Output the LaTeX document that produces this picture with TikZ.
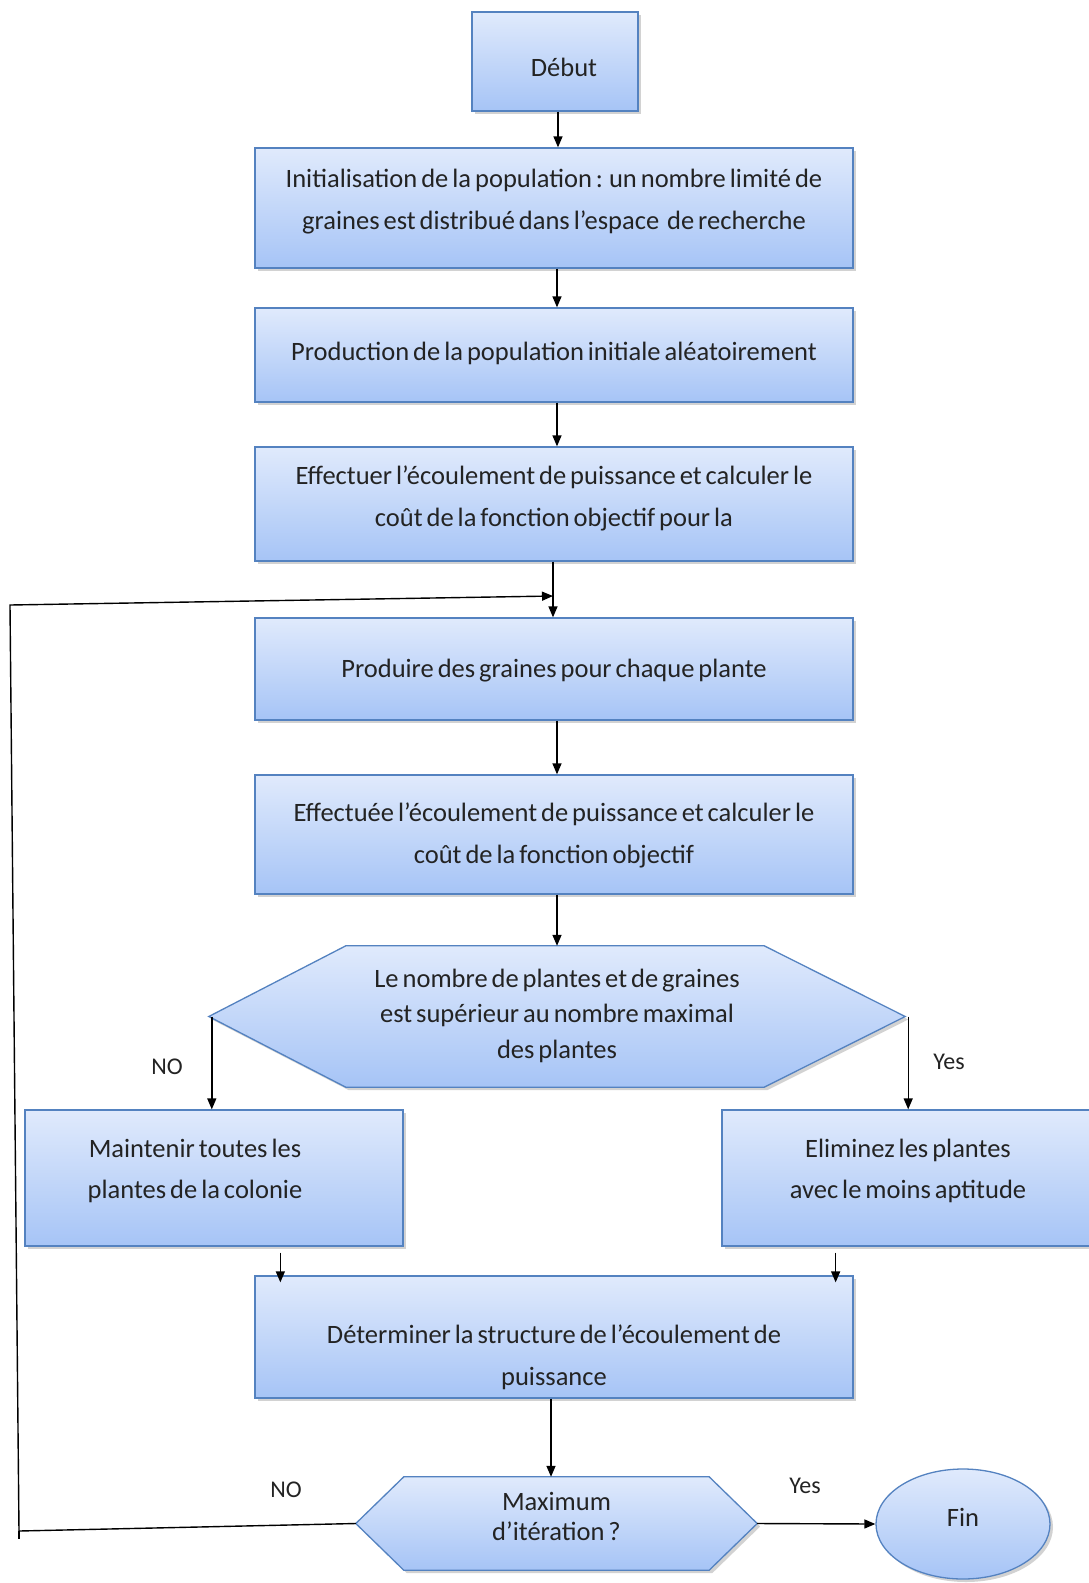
\documentclass[tikz,border=0pt]{standalone}
\usepackage{fontspec}
\setmainfont{Carlito}
\usetikzlibrary{shadows,arrows.meta,backgrounds,shapes.geometric}
\pgfdeclarelayer{paper}
\pgfsetlayers{paper,background,main}
\definecolor{bordc}{RGB}{84,130,192}
\definecolor{topc}{RGB}{224,234,252}
\definecolor{botc}{RGB}{166,196,246}
\definecolor{txtc}{RGB}{35,35,35}
\newcommand\mytxt[2]{\raisebox{#1}[\height][\depth]{\begin{tabular}{@{}c@{}}#2\end{tabular}}}
\newcommand\txtfont[1]{\fontsize{26.5}{#1}\selectfont\spaceskip=0.15em plus 0.05em minus 0.03em\relax}
\tikzset{
  base/.style={line width=1.3pt, draw=bordc, top color=topc, bottom color=botc,
    drop shadow={opacity=0.35, shadow xshift=3pt, shadow yshift=-3pt}},
  box/.style={base, rectangle, align=center, text=txtc, inner sep=0pt,
    font=\txtfont{42}},
  hexlbl/.style={rectangle, align=center, text=txtc, inner sep=0pt},
  arr/.style={line width=1.4pt, -{Triangle[length=11pt,width=9pt]}},
  lbl/.style={text=txtc, font=\fontsize{24}{28}\selectfont}
}
\begin{document}
\begin{tikzpicture}[x=1pt,y=-1pt]
\begin{pgfonlayer}{paper}
\fill[white] (0,0) rectangle (1088,1583);
\end{pgfonlayer}
\useasboundingbox (0,0) rectangle (1088,1583);
% boxes
\node[box, minimum width=166, minimum height=99] (deb) at (555,61.5) {\mytxt{-7pt}{\hspace*{18pt}Début}};
\node[box, minimum width=598, minimum height=120] (init) at (554,208)
  {\mytxt{8pt}{Initialisation de la population : un nombre limité de\\graines est distribué dans l’espace \ de recherche}};
\node[box, minimum width=598, minimum height=94] (prod) at (554,355)
  {\mytxt{3pt}{Production de la population initiale aléatoirement}};
\node[box, minimum width=598, minimum height=114] (eff) at (554,504)
  {\mytxt{7pt}{Effectuer l’écoulement de puissance et calculer le\\coût de la fonction objectif pour la}};
\node[box, minimum width=598, minimum height=102] (plant) at (554,669)
  {\mytxt{0pt}{Produire des graines pour chaque plante}};
\node[box, minimum width=598, minimum height=119] (eff2) at (554,834.5)
  {\mytxt{0pt}{Effectuée l’écoulement de puissance et calculer le\\coût de la fonction objectif}};
% decision 1
\node[hexlbl, minimum width=696, minimum height=141, font=\txtfont{35.5}] (d1) at (557,1016.5)
  {\mytxt{1pt}{Le nombre de plantes et de graines\\est supérieur au nombre maximal\\des plantes}};
\begin{pgfonlayer}{background}
\path[base] (d1.west) -- ([xshift=137]d1.north west) -- ([xshift=-141]d1.north east)
  -- (d1.east) -- ([xshift=-141]d1.south east) -- ([xshift=137]d1.south west) -- cycle;
\end{pgfonlayer}
\node[box, minimum width=378, minimum height=136, font=\txtfont{40.5}] (mnt) at (214,1178)
  {\mytxt{8pt}{\hspace*{-38pt}Maintenir toutes les\\\hspace*{-38pt}plantes de la colonie}};
\node[box, minimum width=372, minimum height=136, font=\txtfont{40.5}] (elim) at (908,1178)
  {\mytxt{8pt}{Eliminez les plantes\\avec le moins aptitude}};
\node[box, minimum width=598, minimum height=122] (det) at (554,1337)
  {\mytxt{-19pt}{Déterminer la structure de l’écoulement de\\puissance}};
% decision 2
\node[hexlbl, minimum width=401, minimum height=93, font=\txtfont{30.5}] (mx) at (556.5,1523.5)
  {\mytxt{4pt}{Maximum\\d’itération ?}};
\begin{pgfonlayer}{background}
\path[base] (mx.west) -- ([xshift=48]mx.north west) -- ([xshift=-48]mx.north east)
  -- (mx.east) -- ([xshift=-48]mx.south east) -- ([xshift=48]mx.south west) -- cycle;
\end{pgfonlayer}
\node[base, ellipse, minimum width=174, minimum height=110, text=txtc, font=\txtfont{30}] (fin) at (963,1524) {\raisebox{14pt}{Fin}};
% connectors
\draw[arr] ([xshift=3]deb.south) -- ([xshift=3]deb.south |- init.north);
\draw[arr] ([xshift=3]init.south) -- ([xshift=3]init.south |- prod.north);
\draw[arr] ([xshift=3]prod.south) -- ([xshift=3]prod.south |- eff.north);
\coordinate (jn) at (553,596);
\draw[arr] (eff.south -| jn) -- (jn |- plant.north);
\draw[arr] ([xshift=3]plant.south) -- ([xshift=3]plant.south |- eff2.north);
\draw[arr] ([xshift=3]eff2.south) -- ([xshift=3]eff2.south |- d1.north);
\draw[arr] ([xshift=3]d1.west) -- ([xshift=3]d1.west |- mnt.north);
\draw[arr] ([xshift=3]d1.east) -- ([xshift=3]d1.east |- elim.north);
\draw[arr] ([xshift=26,yshift=-6]mnt.south -| det.west) -- ([xshift=26,yshift=-7]det.north west);
\draw[arr] ([xshift=-18,yshift=-6]elim.south -| det.east) -- ([xshift=-18,yshift=-7]det.north east);
\draw[arr] ([xshift=-3]det.south) -- ([xshift=-3]det.south |- mx.north);
\draw[arr] (mx.east) -- (fin.west);
\coordinate (lb) at (19,1531);
\coordinate (lt) at (10,605);
\draw[line width=1.4pt] (mx.west) -- (lb);
\draw[line width=1.4pt] (lb) -- ([yshift=-8]lb);
\draw[arr] (lb) -- (lt) -- (jn);
% labels
\node[lbl] (no1) at (167,1067) {NO};
\node[lbl] (yes1) at (949,1062) {Yes};
\node[lbl] (no2) at (286,1490) {NO};
\node[lbl] (yes2) at (805,1486) {Yes};
\end{tikzpicture}
\end{document}
